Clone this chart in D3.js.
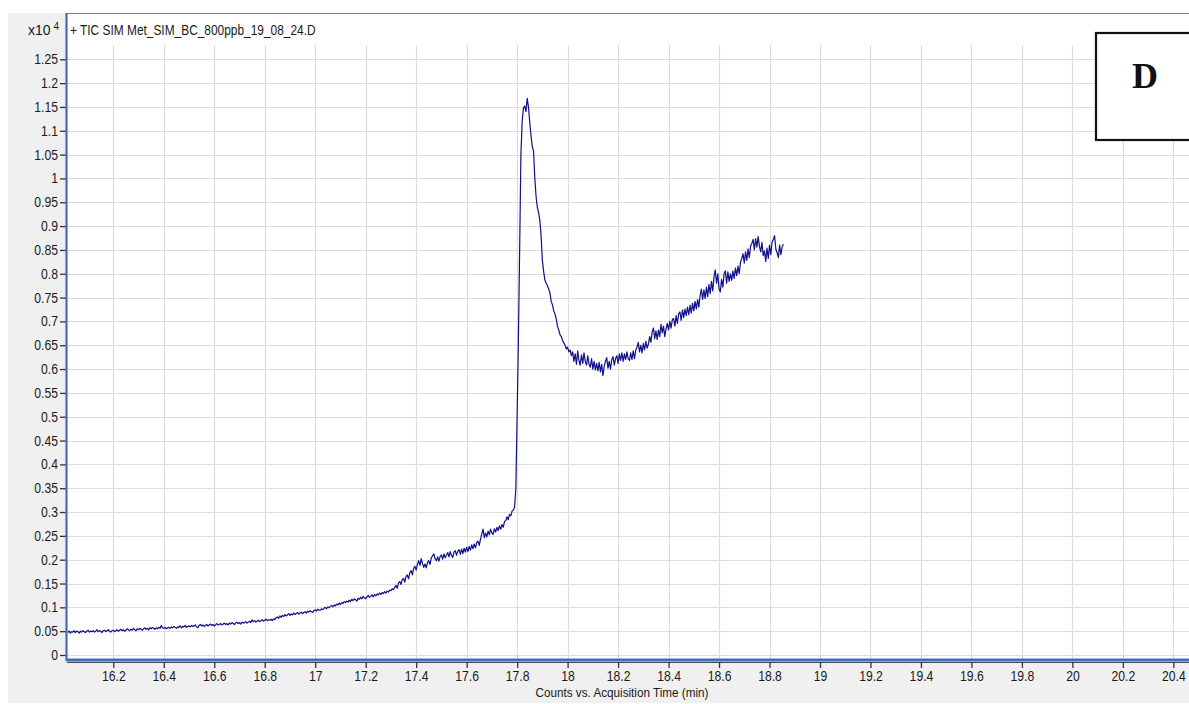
<!DOCTYPE html>
<html>
<head>
<meta charset="utf-8">
<script src="https://cdn.jsdelivr.net/npm/d3@7"></script>
<style>
  html, body { margin: 0; padding: 0; background: #ffffff; }
  svg { display: block; }
  .lbl { font-family: "Liberation Sans Narrow", "Arial Narrow", "Liberation Sans", Arial, sans-serif; fill: #1a1a1a; }
</style>
</head>
<body>
<svg id="chart" width="1189" height="704"></svg>
<script>
// ---------------- DATA ----------------
const title = "+ TIC SIM Met_SIM_BC_800ppb_19_08_24.D";
const xAxisTitle = "Counts vs. Acquisition Time (min)";
const panelLabel = "D";
const xTicks = [16.2, 16.4, 16.6, 16.8, 17, 17.2, 17.4, 17.6, 17.8, 18, 18.2, 18.4, 18.6, 18.8, 19, 19.2, 19.4, 19.6, 19.8, 20, 20.2, 20.4];
const yTicks = [0, 0.05, 0.1, 0.15, 0.2, 0.25, 0.3, 0.35, 0.4, 0.45, 0.5, 0.55, 0.6, 0.65, 0.7, 0.75, 0.8, 0.85, 0.9, 0.95, 1, 1.05, 1.1, 1.15, 1.2, 1.25];
// acquisition: first scan time and scan interval (min)
const scanStart = 16.02;
const scanStep = 0.005;
// TIC counts (x10^4), one per scan, 0.1 min per row
const counts = [
  0.047,0.050,0.046,0.049,0.048,0.051,0.047,0.050,0.049,0.046, 0.050,0.048,0.051,0.049,0.047,0.050,0.052,0.048,0.050,0.049,
  0.051,0.048,0.050,0.053,0.049,0.051,0.050,0.047,0.051,0.052, 0.049,0.051,0.053,0.050,0.048,0.051,0.052,0.049,0.051,0.053,
  0.050,0.052,0.054,0.051,0.053,0.050,0.052,0.055,0.053,0.051, 0.054,0.052,0.056,0.053,0.051,0.055,0.053,0.056,0.054,0.052,
  0.055,0.057,0.054,0.056,0.053,0.057,0.055,0.058,0.056,0.054, 0.057,0.055,0.058,0.056,0.062,0.057,0.056,0.058,0.055,0.057,
  0.058,0.056,0.059,0.057,0.060,0.058,0.056,0.059,0.058,0.061, 0.057,0.060,0.059,0.062,0.058,0.060,0.061,0.059,0.062,0.060,
  0.061,0.063,0.059,0.057,0.062,0.064,0.061,0.063,0.060,0.062, 0.064,0.061,0.063,0.065,0.062,0.064,0.061,0.063,0.066,0.063,
  0.064,0.066,0.063,0.065,0.067,0.064,0.066,0.063,0.067,0.065, 0.068,0.066,0.064,0.067,0.069,0.066,0.068,0.065,0.069,0.067,
  0.068,0.070,0.067,0.069,0.071,0.068,0.074,0.070,0.072,0.069, 0.071,0.073,0.070,0.072,0.074,0.071,0.073,0.075,0.072,0.074,
  0.073,0.075,0.072,0.076,0.074,0.078,0.080,0.077,0.082,0.079, 0.083,0.081,0.085,0.082,0.084,0.087,0.083,0.086,0.084,0.088,
  0.085,0.087,0.089,0.086,0.088,0.090,0.087,0.089,0.091,0.088, 0.092,0.090,0.093,0.091,0.089,0.093,0.095,0.092,0.096,0.094,
  0.094,0.097,0.095,0.098,0.100,0.097,0.101,0.099,0.102,0.104, 0.101,0.105,0.103,0.107,0.105,0.109,0.106,0.110,0.108,0.112,
  0.110,0.113,0.111,0.115,0.112,0.117,0.114,0.118,0.116,0.113, 0.119,0.117,0.121,0.118,0.123,0.120,0.118,0.122,0.125,0.121,
  0.123,0.126,0.122,0.127,0.124,0.128,0.126,0.130,0.127,0.131, 0.129,0.133,0.130,0.134,0.132,0.136,0.135,0.139,0.137,0.142,
  0.146,0.140,0.151,0.154,0.148,0.158,0.161,0.153,0.165,0.168, 0.160,0.173,0.177,0.168,0.182,0.186,0.178,0.190,0.198,0.188,
  0.202,0.192,0.184,0.191,0.183,0.194,0.198,0.190,0.204,0.208, 0.212,0.202,0.198,0.206,0.197,0.207,0.210,0.201,0.212,0.204,
  0.210,0.215,0.206,0.217,0.209,0.205,0.216,0.219,0.209,0.218, 0.221,0.211,0.222,0.213,0.224,0.216,0.226,0.217,0.228,0.220,
  0.231,0.223,0.233,0.225,0.236,0.239,0.230,0.243,0.254,0.264, 0.246,0.256,0.248,0.260,0.252,0.264,0.256,0.253,0.265,0.258,
  0.268,0.261,0.271,0.264,0.274,0.268,0.280,0.282,0.290,0.284, 0.295,0.292,0.302,0.304,0.310,0.350,0.500,0.660,0.850,1.050,
  1.120,1.148,1.152,1.140,1.168,1.150,1.118,1.090,1.067,1.058, 1.002,0.962,0.940,0.928,0.912,0.880,0.828,0.805,0.787,0.780,
  0.775,0.768,0.760,0.742,0.735,0.722,0.716,0.705,0.690,0.682, 0.672,0.668,0.660,0.655,0.650,0.642,0.646,0.636,0.640,0.628,
  0.636,0.616,0.632,0.610,0.638,0.618,0.608,0.630,0.612,0.634, 0.616,0.608,0.628,0.610,0.604,0.622,0.600,0.616,0.598,0.612,
  0.596,0.614,0.594,0.610,0.586,0.606,0.616,0.624,0.602,0.616, 0.600,0.620,0.626,0.608,0.622,0.628,0.612,0.632,0.618,0.634,
  0.616,0.632,0.620,0.636,0.622,0.618,0.634,0.620,0.638,0.622, 0.640,0.646,0.656,0.636,0.650,0.634,0.654,0.640,0.658,0.644,
  0.652,0.668,0.656,0.678,0.686,0.664,0.680,0.662,0.682,0.668, 0.694,0.676,0.690,0.668,0.684,0.696,0.682,0.700,0.686,0.704,
  0.706,0.690,0.712,0.696,0.716,0.720,0.702,0.724,0.708,0.726, 0.712,0.730,0.714,0.734,0.718,0.738,0.722,0.742,0.726,0.746,
  0.730,0.754,0.768,0.746,0.766,0.748,0.772,0.752,0.778,0.758, 0.784,0.764,0.794,0.808,0.780,0.800,0.768,0.762,0.788,0.772,
  0.800,0.806,0.780,0.804,0.784,0.800,0.786,0.806,0.790,0.812, 0.796,0.816,0.800,0.824,0.832,0.842,0.822,0.846,0.828,0.852,
  0.834,0.858,0.864,0.872,0.850,0.874,0.856,0.878,0.858,0.846, 0.866,0.838,0.848,0.826,0.854,0.832,0.860,0.840,0.866,0.872,
  0.880,0.852,0.844,0.834,0.860,0.840,0.856,0.862
];
const series = counts.map((v, i) => ({ t: scanStart + i * scanStep, v: v }));

// ---------------- LAYOUT ----------------
const W = 1189, H = 704;
const plotLeft = 67, plotRight = 1189, plotTop = 14, axisY = 659;
const svg = d3.select("#chart");

const x = d3.scaleLinear().domain([16.0166, 20.462]).range([plotLeft, plotRight]);
const y = d3.scaleLinear().domain([0, 1.25]).range([655, 59.3]);

function narrow(sel, f) {
  sel.each(function () {
    const w = this.getComputedTextLength();
    d3.select(this).attr("textLength", w * f).attr("lengthAdjust", "spacingAndGlyphs");
  });
}

// gray frame background
svg.append("rect").attr("x", 8).attr("y", 13).attr("width", W - 8).attr("height", H - 14).attr("fill", "#f0f0f0");
// white plot area
svg.append("rect").attr("x", plotLeft).attr("y", plotTop).attr("width", plotRight - plotLeft).attr("height", axisY - plotTop).attr("fill", "#ffffff");

// grid
const grid = svg.append("g");
grid.selectAll("line.h").data(yTicks).enter().append("line")
  .attr("x1", plotLeft).attr("x2", plotRight)
  .attr("y1", d => Math.round(y(d)) + 0.5).attr("y2", d => Math.round(y(d)) + 0.5)
  .attr("stroke", "#dcdcdc").attr("stroke-width", 1.2);
grid.selectAll("line.v").data(xTicks).enter().append("line")
  .attr("y1", 45).attr("y2", axisY)
  .attr("x1", d => Math.round(x(d)) + 0.5).attr("x2", d => Math.round(x(d)) + 0.5)
  .attr("stroke", "#dcdcdc").attr("stroke-width", 1.2);

// top border
svg.append("line").attr("x1", plotLeft).attr("x2", plotRight).attr("y1", 13.5).attr("y2", 13.5)
  .attr("stroke", "#5b84c4").attr("stroke-width", 1.2);

// trace
const line = d3.line().x(d => x(d.t)).y(d => y(d.v));
svg.append("path").datum(series)
  .attr("d", line).attr("fill", "none")
  .attr("stroke", "#10108a").attr("stroke-width", 1.2).attr("stroke-linejoin", "round");

// left axis
const yAxis = d3.axisLeft(y).tickValues(yTicks).tickSize(6).tickPadding(2).tickFormat(d3.format("~g"));
const gy = svg.append("g").attr("transform", `translate(${plotLeft - 1},0)`).call(yAxis);
gy.select(".domain").remove();
gy.selectAll(".tick line").attr("stroke", "#333").attr("stroke-width", 1.3);
gy.selectAll(".tick text").attr("class", "lbl").style("font-size", "14px").attr("fill", "#1a1a1a");
narrow(gy.selectAll(".tick text"), 0.87);
svg.append("line").attr("x1", plotLeft - 0.5).attr("x2", plotLeft - 0.5).attr("y1", 13).attr("y2", axisY + 2)
  .attr("stroke", "#3d6fc0").attr("stroke-width", 2.2);

// bottom axis
svg.append("line").attr("x1", plotLeft - 1).attr("x2", plotRight).attr("y1", axisY + 1).attr("y2", axisY + 1)
  .attr("stroke", "#3d6fc0").attr("stroke-width", 3);
svg.append("line").attr("x1", plotLeft).attr("x2", plotRight).attr("y1", axisY + 3.5).attr("y2", axisY + 3.5)
  .attr("stroke", "#444").attr("stroke-width", 1);
const xAxis = d3.axisBottom(x).tickValues(xTicks).tickSize(6).tickPadding(3).tickFormat(d3.format("~g"));
const gx = svg.append("g").attr("transform", `translate(0,${axisY + 3})`).call(xAxis);
gx.select(".domain").remove();
gx.selectAll(".tick line").attr("stroke", "#333").attr("stroke-width", 1.3);
gx.selectAll(".tick text").attr("class", "lbl").style("font-size", "14px").attr("fill", "#1a1a1a");
narrow(gx.selectAll(".tick text"), 0.87);

// titles
const tt = svg.append("text").attr("class", "lbl").attr("x", 70).attr("y", 35).style("font-size", "14px").text(title);
narrow(tt, 0.85);
const mult = svg.append("text").attr("class", "lbl").attr("x", 28).attr("y", 35).style("font-size", "14px");
mult.append("tspan").text("x10");
mult.append("tspan").attr("dx", 3).attr("dy", -5).style("font-size", "10px").text("4");
const xt = svg.append("text").attr("class", "lbl").attr("x", 622).attr("y", 697).attr("text-anchor", "middle")
  .style("font-size", "13px").text(xAxisTitle);
narrow(xt, 0.9);

// panel label box
svg.append("rect").attr("x", 1096).attr("y", 33).attr("width", 110).attr("height", 107)
  .attr("fill", "#ffffff").attr("stroke", "#111").attr("stroke-width", 2.2);
svg.append("text").attr("x", 1145).attr("y", 88).attr("text-anchor", "middle")
  .style("font-family", "'Liberation Serif', 'Times New Roman', serif").style("font-weight", "bold")
  .style("font-size", "36px").attr("fill", "#111").text(panelLabel);
</script>
</body>
</html>
